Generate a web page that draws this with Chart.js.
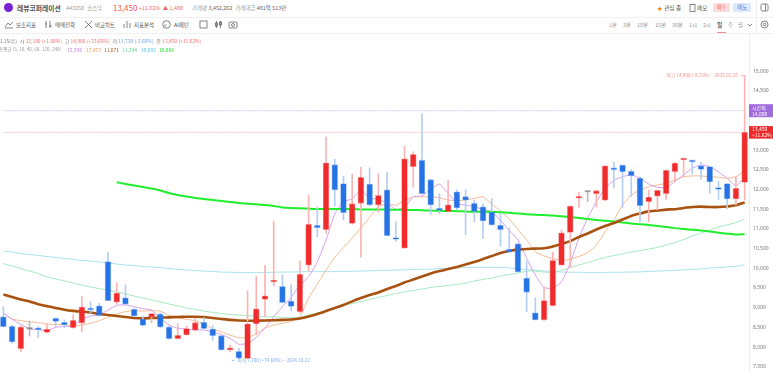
<!DOCTYPE html>
<html lang="ko">
<head>
<meta charset="utf-8">
<title>레뷰코퍼레이션</title>
<script src="https://cdn.jsdelivr.net/npm/chart.js@4"></script>
<style>
html, body { margin: 0; padding: 0; background: #fff; overflow: hidden; }
body { width: 773px; height: 372px; position: relative; font-family: "Noto Sans CJK KR", "Noto Sans", sans-serif; color: #555; }
#wrap { position: absolute; left: -1px; top: 34px; width: 774px; height: 338px; }
.t { position: absolute; white-space: nowrap; font-size: 6px; line-height: 8px; }
.s { font-size: 4.9px; line-height: 7px; }
.g { color: #999; }
.r { color: #f36c6c; }
.b { color: #6f9ff0; }
.line { position: absolute; background: #f0f0f0; }
.btn { position: absolute; top: 3px; height: 9px; line-height: 9px; text-align: center; font-size: 5.5px; border-radius: 1.5px; }
svg { position: absolute; fill: none; stroke: #666; stroke-width: 0.8; }
</style>
</head>
<body>
<div id="wrap"><canvas id="chart"></canvas></div>

<div class="line" style="left:0;top:17px;width:773px;height:1px"></div>
<div class="line" style="left:0;top:33px;width:773px;height:1px"></div>
<div class="line" style="left:756px;top:0;width:1px;height:33px"></div>
<div style="position:absolute;left:717px;top:32px;width:9px;height:1px;background:#f08f8f"></div>

<div style="position:absolute;left:4px;top:3px;width:9px;height:9px;border-radius:50%;background:#7a22d8"></div>
<div class="t" style="left:17px;top:4px;font-size:6.8px;font-weight:700;color:#555">레뷰코퍼레이션</div>
<div class="t g" style="left:66px;top:4px;font-size:5.4px">443250 &nbsp;코스닥</div>
<div class="t" style="left:113px;top:2px;font-size:8px;line-height:12px;color:#f25555">13,450</div>
<div class="t r" style="left:139px;top:4px;font-size:5.4px">+11.62% &nbsp;▲ 1,400</div>
<div class="t g" style="left:192px;top:4px;font-size:5.4px">거래량 <span style="color:#666">3,452,262</span> &nbsp;거래대금 <span style="color:#666">481억 513만</span></div>

<div class="t" style="left:657px;top:4px;font-size:5.6px"><span style="color:#e8830c">★</span> 관심 종</div>
<svg style="left:689px;top:3px" width="7" height="9"><rect x="1" y="1.5" width="5" height="7"/></svg>
<div class="t" style="left:697px;top:4px;font-size:5.6px">메모</div>
<div class="btn" style="left:713px;width:17px;background:#ffdcdc;color:#f26a6a">매수</div>
<div class="btn" style="left:733px;width:18px;background:#dde8ff;color:#4f86ea">매도</div>
<svg style="left:760px;top:3px" width="9" height="9"><rect x="1" y="1" width="7" height="7" rx="1.5"/><path d="M5.5 1v7"/></svg>

<svg style="left:4px;top:20px" width="10" height="9"><path d="M1 7l3-4 2 2 3-3M1 8h8"/></svg>
<div class="t" style="left:16px;top:21px;font-size:5.4px">보조지표</div>
<svg style="left:44px;top:20px" width="9" height="9"><path d="M2 1v7M1 4h2M6 1v7M5 6h3"/></svg>
<div class="t" style="left:55px;top:21px;font-size:5.4px">매매전략</div>
<svg style="left:84px;top:20px" width="9" height="9"><path d="M1 1l7 7M1 8l7-7"/></svg>
<div class="t" style="left:95px;top:21px;font-size:5.4px">비교차트</div>
<svg style="left:123px;top:20px" width="9" height="9"><path d="M1 8V4M4 8V1M7 8V3"/></svg>
<div class="t" style="left:134px;top:21px;font-size:5.4px">지표분석</div>
<svg style="left:162px;top:20px" width="9" height="9"><circle cx="4.5" cy="4.5" r="3.8"/></svg>
<div class="t" style="left:164px;top:22px;font-size:3px">AI</div>
<div class="t" style="left:174px;top:21px;font-size:5.4px">AI패턴</div>
<svg style="left:199px;top:20px" width="9" height="9"><rect x="1" y="1" width="7" height="7"/></svg>
<svg style="left:214px;top:20px" width="9" height="9"><path d="M2.5 1v7M6.5 1v7"/><rect x="1.5" y="3" width="2" height="3"/><rect x="5.5" y="2" width="2" height="3"/></svg>
<svg style="left:228px;top:20px" width="10" height="9"><rect x="1" y="2" width="8" height="6" rx="1"/><circle cx="5" cy="5" r="1.5"/></svg>

<div class="t g" style="left:609px;top:21px;font-size:5.4px">1분</div>
<div class="t g" style="left:623px;top:21px;font-size:5.4px">3분</div>
<div class="t g" style="left:637px;top:21px;font-size:5.4px">10분</div>
<div class="t g" style="left:655px;top:21px;font-size:5.4px">15분</div>
<div class="t g" style="left:672px;top:21px;font-size:5.4px">30분</div>
<div class="t g" style="left:689px;top:21px;font-size:5.4px">1시</div>
<div class="t g" style="left:703px;top:21px;font-size:5.4px">2시</div>
<div class="t" style="left:717px;top:21px;font-size:5.8px;font-weight:700;color:#555">일</div>
<div class="t g" style="left:728px;top:21px;font-size:5.4px">주</div>
<div class="t g" style="left:738px;top:21px;font-size:5.4px">월</div>
<svg style="left:747px;top:22px" width="6" height="6"><path d="M1 2l2 2 2-2"/></svg>
<svg style="left:760px;top:20px" width="9" height="9"><circle cx="4.5" cy="4.5" r="3.5"/><circle cx="4.5" cy="4.5" r="1.3"/></svg>

<div class="t s" style="left:-3px;top:37px;color:#777">01.15(수) &nbsp;시 <span class="r">12,180 (+1.08%)</span> &nbsp;고 <span class="r">14,900 (+23.65%)</span> &nbsp;저 <span class="b">11,730 (-2.66%)</span> &nbsp;종 <span class="r">13,450 (+11.62%)</span></div>
<div class="t s" style="left:-5px;top:46px;color:#999;font-size:4.5px">이동평균 (5, 10, 40, 60, 120, 240)</div>
<div class="t s" style="left:67px;top:46px;color:#c77bea">12,298</div>
<div class="t s" style="left:86px;top:46px;color:#ee9a55">12,472</div>
<div class="t s" style="left:104px;top:46px;color:#a5500f">11,671</div>
<div class="t s" style="left:122px;top:46px;color:#55d68a">11,244</div>
<div class="t s" style="left:141px;top:46px;color:#55bfe6">10,092</div>
<div class="t s" style="left:159px;top:46px;color:#22dd2a">10,864</div>

<script>
const open = [
  8770, 8530, 7960, 8450, 8470, 8370, 8730, 8630, 8490, 8610,
  8990, 9050, 10170, 9140, 9250, 8960, 8710, 8760, 8840, 8510,
  8210, 8310, 8430, 8630, 8460, 8290, 7930, 7890, 7710, 8590,
  9210, 9650, 9540, 9170, 8900, 10080, 11090, 10980, 12630, 12150,
  11140, 11650, 12140, 11610, 11990, 10760, 10510, 12580, 12740, 12250,
  11510, 11440, 11940, 11820, 11650, 11560, 11430, 11090, 10480, 10620,
  9750, 8870, 8690, 9050, 10080, 10910, 11780, 11930, 11890, 11730,
  12550, 12620, 12460, 12290, 11690, 11830, 11890, 12450, 12750, 12720,
  12600, 12580, 12040, 12150, 11760, 12180
];
const close = [
  8520, 8130, 8510, 8450, 8440, 8460, 8650, 8560, 8680, 9020,
  8940, 8800, 9180, 9370, 9090, 8790, 8550, 8850, 8510, 8210,
  8300, 8470, 8620, 8470, 8290, 7930, 7970, 7720, 8590, 8970,
  9300, 9690, 9130, 9030, 9850, 11120, 11030, 12680, 11990, 11410,
  11640, 12310, 11610, 11850, 10830, 10730, 12780, 12890, 11890, 11610,
  11470, 11610, 11530, 11730, 11440, 11200, 11100, 10980, 10410, 9910,
  9390, 8690, 9180, 10200, 10900, 11580, 11830, 11930, 11970, 12600,
  12500, 12450, 12350, 11590, 11810, 11980, 12490, 12670, 12770, 12700,
  12510, 12190, 12000, 11760, 12030, 13450
];
const high = [
  9030, 8560, 8540, 8660, 8520, 8590, 8740, 8690, 8820, 9280,
  9150, 9110, 10410, 9630, 9580, 8980, 8790, 8860, 8860, 8530,
  8590, 8530, 8730, 8740, 8550, 8290, 8050, 7970, 9430, 9800,
  10070, 11200, 9830, 9580, 10190, 11860, 11560, 13330, 12770, 12340,
  12390, 12570, 12550, 12410, 12440, 11180, 13100, 12960, 13920, 12260,
  11890, 12230, 11990, 11990, 11730, 11630, 11770, 11380, 11020, 10640,
  10190, 9250, 9530, 10410, 10970, 11580, 11930, 11950, 11970, 12600,
  12700, 12620, 12500, 12330, 11990, 11980, 12490, 12690, 12770, 12730,
  12690, 12580, 12210, 12150, 12330, 14900
];
const low = [
  8510, 8100, 7880, 8280, 8240, 8360, 8510, 8490, 8480, 8390,
  8870, 8790, 9180, 9090, 9080, 8790, 8540, 8620, 8490, 8200,
  8210, 8300, 8410, 8460, 8170, 7920, 7880, 7700, 7700, 8310,
  8770, 9550, 9130, 8920, 8860, 9930, 10800, 10890, 11580, 11230,
  11120, 10280, 11590, 11420, 10830, 10680, 10510, 12060, 11890, 11370,
  11380, 11440, 11480, 10850, 11180, 10750, 11090, 10570, 10410, 9900,
  8900, 8690, 8670, 9050, 10080, 10020, 11550, 11690, 11550, 11710,
  12040, 11550, 11820, 11180, 11180, 11480, 11750, 12200, 12330, 12390,
  12260, 11900, 11750, 11510, 11610, 11730
];
const ma5 = [
  8860, 8705, 8580, 8460, 8450, 8410, 8505, 8520, 8535, 8705,
  8790, 8815, 8940, 9060, 9070, 9025, 8975, 8940, 8730, 8560,
  8475, 8460, 8435, 8435, 8390, 8315, 8225, 8070, 8095, 8245,
  8485, 8770, 9025, 9265, 9575, 9785, 10160, 10720, 11380, 11690,
  11760, 11985, 11775, 11760, 11650, 11495, 11540, 11815, 11835, 12015,
  12140, 11905, 11650, 11600, 11565, 11495, 11435, 11225, 10960, 10720,
  10255, 9830, 9510, 9495, 9650, 10135, 10770, 11275, 11690, 12030,
  12240, 12325, 12370, 12285, 12140, 12055, 12055, 12200, 12370, 12540,
  12620, 12580, 12450, 12285, 12095, 12298
];
const ma10 = [
  8860, 8715, 8670, 8645, 8620, 8585, 8575, 8570, 8535, 8560,
  8605, 8670, 8755, 8840, 8900, 8925, 8915, 8925, 8910, 8805,
  8740, 8705, 8670, 8585, 8465, 8385, 8305, 8240, 8240, 8340,
  8485, 8560, 8605, 8645, 8770, 9245, 9600, 9955, 10280, 10525,
  10770, 11025, 11295, 11565, 11630, 11600, 11715, 11815, 11815, 11815,
  11790, 11735, 11715, 11735, 11775, 11815, 11630, 11455, 11255, 10990,
  10720, 10420, 10310, 10250, 10200, 10230, 10300, 10395, 10590, 10930,
  11225, 11605, 11860, 11985, 12070, 12115, 12155, 12240, 12325, 12345,
  12345, 12325, 12310, 12285, 12325, 12472
];
const ma40 = [
  9335, 9270, 9210, 9160, 9090, 9040, 8990, 8950, 8920, 8900,
  8880, 8840, 8815, 8790, 8765, 8740, 8730, 8740, 8745, 8755,
  8765, 8770, 8770, 8765, 8740, 8715, 8690, 8675, 8670, 8670,
  8675, 8680, 8690, 8700, 8725, 8775, 8840, 8915, 8990, 9070,
  9160, 9245, 9320, 9385, 9475, 9550, 9640, 9715, 9790, 9870,
  9930, 9980, 10035, 10095, 10160, 10235, 10310, 10390, 10440, 10475,
  10490, 10500, 10510, 10555, 10615, 10690, 10795, 10885, 10985, 11075,
  11150, 11240, 11330, 11390, 11445, 11465, 11490, 11500, 11530, 11555,
  11565, 11555, 11555, 11570, 11600, 11671
];
const ma60 = [
  10120, 10060, 9995, 9930, 9870, 9780, 9730, 9680, 9625, 9575,
  9525, 9485, 9450, 9400, 9350, 9295, 9245, 9195, 9145, 9095,
  9045, 8990, 8955, 8915, 8880, 8855, 8825, 8815, 8800, 8785,
  8770, 8765, 8755, 8745, 8755, 8815, 8865, 8930, 8990, 9055,
  9105, 9155, 9210, 9260, 9310, 9360, 9400, 9435, 9475, 9515,
  9540, 9565, 9590, 9625, 9680, 9715, 9755, 9805, 9840, 9880,
  9930, 9930, 9905, 9895, 9945, 10020, 10085, 10145, 10210, 10275,
  10325, 10365, 10415, 10450, 10490, 10530, 10590, 10655, 10730, 10820,
  10895, 10970, 11050, 11100, 11160, 11244
];
const ma120 = [
  10440, 10415, 10375, 10350, 10325, 10300, 10275, 10250, 10225, 10200,
  10185, 10160, 10135, 10110, 10085, 10070, 10045, 10035, 10015, 9995,
  9970, 9955, 9945, 9930, 9920, 9905, 9900, 9895, 9890, 9890,
  9895, 9900, 9905, 9905, 9910, 9915, 9915, 9915, 9915, 9920,
  9925, 9930, 9935, 9945, 9950, 9955, 9960, 9970, 9975, 9980,
  9990, 10000, 10010, 10015, 10025, 10025, 10025, 10025, 10010, 9995,
  9970, 9955, 9930, 9920, 9905, 9900, 9900, 9895, 9895, 9895,
  9900, 9900, 9905, 9910, 9920, 9930, 9940, 9950, 9960, 9975,
  9985, 10005, 10020, 10035, 10050, 10092
];
const ma240 = [
  null, null, null, null, null, null, null, null, null, null,
  null, null, null, 12185, 12140, 12100, 12065, 12025, 11975, 11910,
  11860, 11820, 11785, 11760, 11735, 11710, 11680, 11655, 11640, 11625,
  11605, 11580, 11545, 11530, 11525, 11515, 11505, 11505, 11505, 11505,
  11500, 11495, 11495, 11490, 11490, 11485, 11485, 11480, 11475, 11465,
  11460, 11455, 11450, 11440, 11435, 11435, 11435, 11425, 11410, 11390,
  11375, 11360, 11350, 11340, 11320, 11300, 11275, 11250, 11225, 11210,
  11190, 11165, 11135, 11120, 11100, 11075, 11050, 11020, 10995, 10980,
  10960, 10935, 10905, 10880, 10855, 10864
];
const priceTicks = [7500, 8000, 8500, 9000, 9500, 10000, 10500, 11000, 11500, 12000, 12500, 13000, 14500, 15000];
const lastClose = 13450;
const lastPct = "+11.62%";
const prevMark = 14000;
const highNote = "최고 14,900 (-9.73%) – 2025.01.15 →";
const lowNote = "← 최저 7,700 (+74.68%) – 2024.10.22";

const days = open.map((_, i) => i);
const RED = "#f02b2b", BLUE = "#2673e6", GRAY = "#8a8a8a";
const tone = i => close[i] > open[i] ? RED : close[i] < open[i] ? BLUE : GRAY;
const wickTone = i => close[i] > open[i] ? "#fbb4b4" : close[i] < open[i] ? "#b4cdf6" : "#bdbdbd";

function maLine(data, color, width, order) {
  return { type: "line", data, borderColor: color, borderWidth: width, pointRadius: 0, tension: 0.15, order };
}

// price tags and high/low notes
const markers = {
  id: "markers",
  afterDatasetsDraw(c) {
    const ctx = c.ctx, y = c.scales.y, x = c.scales.x;
    const ax = c.chartArea.right;
    const tag = (p, h, bg, a, b) => {
      const py = y.getPixelForValue(p);
      ctx.fillStyle = bg;
      ctx.fillRect(ax, py - h / 2, 24, h);
      ctx.fillStyle = "#fff";
      ctx.font = '5px "Noto Sans CJK KR"';
      ctx.textAlign = "left";
      ctx.textBaseline = "middle";
      ctx.fillText(a, ax + 3, py - 3);
      ctx.fillText(b, ax + 3, py + 3);
    };
    tag(prevMark, 13, "#a06bdc", "시간외", prevMark.toLocaleString("en-US"));
    tag(lastClose, 12.5, "#ee2b2b", lastClose.toLocaleString("en-US"), lastPct);

    ctx.font = '4.7px "Noto Sans CJK KR"';
    ctx.textBaseline = "middle";
    ctx.fillStyle = "#f48f8f";
    ctx.textAlign = "right";
    const hi = high.indexOf(Math.max(...high));
    ctx.fillText(highNote, x.getPixelForValue(hi) - 1, y.getPixelForValue(high[hi]));
    ctx.fillStyle = "#7fa9ee";
    ctx.textAlign = "left";
    const lo = low.indexOf(Math.min(...low));
    ctx.fillText(lowNote, x.getPixelForValue(lo) - 7, y.getPixelForValue(low[lo]) + 1);
  }
};

new Chart(document.getElementById("chart").getContext("2d"), {
  data: {
    labels: days,
    datasets: [
      { type: "bar", data: days.map(i => [open[i], close[i]]), backgroundColor: days.map(tone),
        borderColor: days.map(i => tone(i) + "66"), borderWidth: 0.8, borderSkipped: false,
        barThickness: 6, minBarLength: 2, grouped: false, order: 1 },
      { type: "bar", data: days.map(i => [low[i], high[i]]), backgroundColor: days.map(wickTone),
        barThickness: 1, grouped: false, order: 2 },
      maLine(open.map(() => prevMark), "#e0dcf5", 1, 12),
      maLine(open.map(() => lastClose), "#fbd3d3", 1, 12),
      maLine(ma5, "#d79ff0", 1, 5),
      maLine(ma10, "#f5b98f", 1, 6),
      maLine(ma40, "#a8520f", 2.6, 3),
      maLine(ma60, "#a4e8bf", 1, 8),
      maLine(ma120, "#a6e1ea", 1, 9),
      maLine(ma240, "#20ee2c", 2, 4)
    ]
  },
  options: {
    responsive: true,
    maintainAspectRatio: false,
    animation: false,
    layout: { padding: 0 },
    plugins: { legend: { display: false }, tooltip: { enabled: false } },
    scales: {
      x: { display: false, offset: true },
      y: {
        position: "right",
        min: 7368,
        max: 15947,
        afterFit(scale) {
          scale.width = 24;
          scale.paddingTop = 0;
          scale.paddingBottom = 0;
        },
        afterBuildTicks(scale) { scale.ticks = priceTicks.map(value => ({ value })); },
        grid: { display: false, drawTicks: false },
        border: { color: "#eeeeee" },
        ticks: {
          color: "#777",
          padding: 4,
          font: { size: 5, family: "Noto Sans, sans-serif" },
          callback: v => v.toLocaleString("en-US")
        }
      }
    }
  },
  plugins: [markers]
});
</script>
</body>
</html>
